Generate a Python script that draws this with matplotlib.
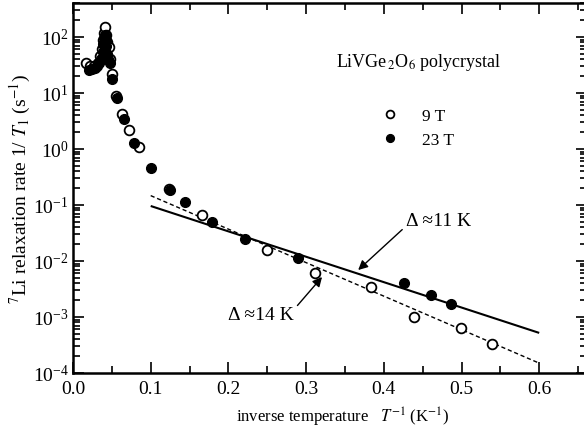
import matplotlib
matplotlib.use("Agg")
import matplotlib.pyplot as plt
from matplotlib.ticker import MultipleLocator, LogLocator, NullFormatter, FormatStrFormatter

plt.rcParams['font.family'] = ['Liberation Serif', 'DejaVu Serif']
plt.rcParams['mathtext.fontset'] = 'stix'

# 7Li spin-lattice relaxation rate, 9 T field
inv_T_9T = [0.0167, 0.022, 0.027, 0.032, 0.035, 0.037, 0.039, 0.0405, 0.0412,
            0.0425, 0.044, 0.046, 0.047, 0.050, 0.055, 0.063, 0.072, 0.0845,
            0.124, 0.166, 0.250, 0.312, 0.3835, 0.4385, 0.4994, 0.5388]
rate_9T = [35, 30, 30, 35, 45, 60, 90, 120, 148,
           110, 80, 65, 40, 22, 9.0, 4.2, 2.2, 1.07,
           0.19, 0.067, 0.0157, 0.0061, 0.00348, 0.00099, 0.00064, 0.00033]

# 7Li spin-lattice relaxation rate, 23 T field
inv_T_23T = [0.020, 0.024, 0.028, 0.031, 0.034, 0.036, 0.038, 0.039, 0.040,
             0.041, 0.042, 0.043, 0.044, 0.045, 0.047, 0.0506, 0.057, 0.065,
             0.079, 0.100, 0.125, 0.144, 0.179, 0.222, 0.290, 0.4256, 0.461, 0.487]
rate_23T = [26, 27, 28, 30, 35, 40, 55, 75, 95,
            110, 90, 70, 50, 40, 35, 18, 8.0, 3.4,
            1.3, 0.45, 0.185, 0.112, 0.050, 0.0247, 0.0112, 0.0040, 0.00247, 0.0017]

# Activated fits: end points of each line
fit_x = [0.1, 0.6]
fit_11K = [0.096, 5.2e-4]
fit_14K = [0.147, 1.5e-4]

fig = plt.figure(figsize=(5.84, 4.39), dpi=100)
W, H = 584, 439
ax = fig.add_axes([73 / W, 1 - 374 / H, (587 - 73) / W, (374 - 4) / H])

ax.plot(fit_x, fit_11K, color='black', lw=1.5, solid_capstyle='butt')
ax.plot(fit_x, fit_14K, color='black', lw=1.0, dashes=(3, 2))

ax.plot(inv_T_9T, rate_9T, linestyle='none', marker='o', ms=7,
        mfc='white', mec='black', mew=1.3, label='9 T')
ax.plot(inv_T_23T, rate_23T, linestyle='none', marker='o', ms=7,
        mfc='black', mec='black', mew=1.0, label='23 T')

ax.set_yscale('log')
ax.set_xlim(0, 0.6615)
ax.set_ylim(1e-4, 10 ** 2.607)

ax.xaxis.set_major_locator(MultipleLocator(0.1))
ax.xaxis.set_minor_locator(MultipleLocator(0.05))
ax.xaxis.set_major_formatter(FormatStrFormatter('%.1f'))
ax.yaxis.set_major_locator(LogLocator(base=10, numticks=20))
ax.yaxis.set_minor_locator(LogLocator(base=10, subs=range(2, 10), numticks=20))
ax.yaxis.set_minor_formatter(NullFormatter())

ax.tick_params(which='both', direction='in', top=True, right=True,
               labelsize=14, width=1.2)
ax.tick_params(which='major', length=8)
ax.tick_params(axis='x', which='major', pad=5)
ax.tick_params(axis='y', which='major', pad=3)
ax.tick_params(which='minor', length=5)
for s in ax.spines.values():
    s.set_linewidth(1.8)

ax.set_xlabel(r'inverse temperature   $T^{-1}$ (K$^{-1}$)', fontsize=12)
ax.xaxis.set_label_coords(0.525, -0.085)
ax.set_ylabel(r'$^{7}$Li relaxation rate 1/ $T_1$ (s$^{-1}$)', fontsize=14, labelpad=0)

ax.text(0.512, 0.843, r'LiVGe$_{\,2}$O$_6$ polycrystal', transform=ax.transAxes,
        fontsize=13, ha='left', va='center')

ax.legend(loc='upper left', bbox_to_anchor=(0.6006, 0.716), frameon=False,
          fontsize=12.5, handlelength=1.0, handletextpad=1.3, labelspacing=0.45,
          borderpad=0, borderaxespad=0, numpoints=1, markerscale=0.8)

ax.annotate('Δ ≈11 K', xy=(0.367, 0.0069), xytext=(0.4286, 0.0518),
            fontsize=14, ha='left', va='center',
            arrowprops=dict(arrowstyle='-|>', color='black', lw=1.0,
                            mutation_scale=14, relpos=(0.0, 0.2),
                            shrinkA=1, shrinkB=0))
ax.annotate('Δ ≈14 K', xy=(0.3205, 0.00518), xytext=(0.1995, 0.00113),
            fontsize=14, ha='left', va='center',
            arrowprops=dict(arrowstyle='-|>', color='black', lw=1.0,
                            mutation_scale=14, relpos=(1.0, 0.75),
                            shrinkA=1, shrinkB=0))

fig.savefig('out.png', dpi=100)
